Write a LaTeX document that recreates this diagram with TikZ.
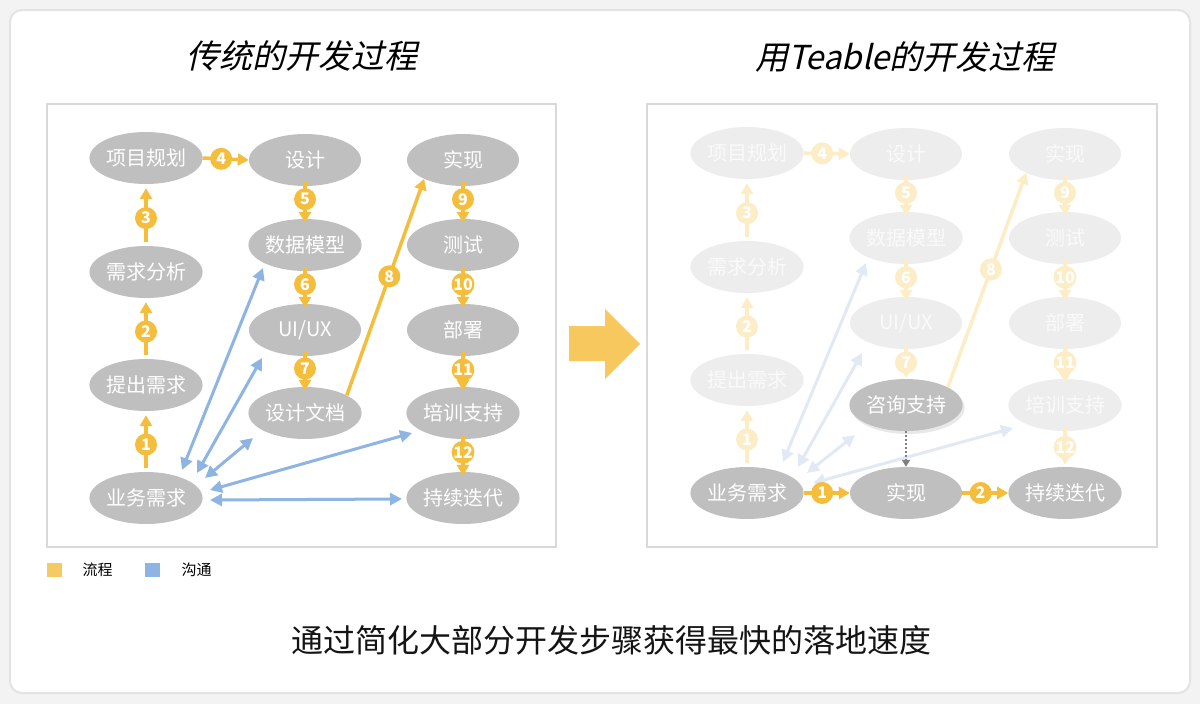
\documentclass[tikz,border=0pt]{standalone}
\usepackage{fontspec}
\setmainfont{Noto Sans CJK SC}
\newfontfamily\cjkslant[FakeSlant=0.22]{Noto Sans CJK SC}
\usetikzlibrary{shapes.geometric,arrows.meta,shadows}
\definecolor{nodegray}{HTML}{BFBFBF}
\definecolor{fadegray}{HTML}{EDEDED}
\definecolor{fadetxt}{HTML}{FAFAFA}
\definecolor{ylw}{HTML}{F4BD3C}
\definecolor{ylwfade}{HTML}{FCEDC6}
\definecolor{blu}{HTML}{8EB4E3}
\definecolor{blufade}{HTML}{E2E9F5}
\definecolor{bigarrow}{HTML}{F7C85E}
\definecolor{panelborder}{HTML}{D9D9D9}
\definecolor{cardborder}{HTML}{E3E3E3}
\definecolor{pagebg}{HTML}{F3F3F3}
\definecolor{dotgray}{HTML}{808080}
\begin{document}
\begin{tikzpicture}[x=1pt,y=-1pt,
  el/.style={ellipse, fill=nodegray, minimum width=112pt, minimum height=52pt, inner sep=0pt, text=white, font=\fontsize{20}{20}\selectfont},
  elfade/.style={el, fill=fadegray, text=fadetxt},
  num/.style={circle, fill=ylw, inner sep=0pt, minimum size=22pt, text=white, font=\bfseries\fontsize{16}{16}\selectfont},
  numfade/.style={num, fill=ylwfade},
  flow/.style={draw=ylw, line width=3.5pt, -{Triangle[length=11pt,width=12pt]}},
  flowfade/.style={flow, draw=ylwfade},
  comm/.style={draw=blu, line width=3pt, {Triangle[length=12pt,width=12pt]}-{Triangle[length=12pt,width=12pt]}},
  commfade/.style={comm, draw=blufade},
  panel/.style={draw=panelborder, line width=2.5pt, fill=white},
  legendtxt/.style={anchor=west, font=\fontsize{15}{15}\selectfont, text=black}
]
\fill[pagebg] (0,0) rectangle (1200,704);
\useasboundingbox (0,0) rectangle (1200,704);
\draw[cardborder, line width=2pt, fill=white, rounded corners=12pt] (10,10) rectangle (1190,693);

% titles
\node[font=\cjkslant\fontsize{33}{33}\selectfont] (t1) at (302,56) {传统的开发过程};
\node[font=\cjkslant\fontsize{33}{33}\selectfont] (t2) at (905,57) {用Teable的开发过程};

% panels
\draw[panel] (47,104) rectangle (556,547);
\draw[panel] (647,104) rectangle (1157,547);

% big arrow
\fill[bigarrow] (569,326) -- (605,326) -- (605,309) -- (640,344) -- (605,379) -- (605,361) -- (569,361) -- cycle;

% ---------- left panel ----------
\node[el] (L1) at (146,158) {项目规划};
\node[el] (L2) at (305,160) {设计};
\node[el] (L3) at (463,160) {实现};
\node[el] (L4) at (146,272) {需求分析};
\node[el] (L5) at (305,245) {数据模型};
\node[el] (L6) at (463,245) {测试};
\node[el] (L7) at (305,330) {UI/UX};
\node[el] (L8) at (463,330) {部署};
\node[el] (L9) at (146,385) {提出需求};
\node[el] (L10) at (305,413) {设计文档};
\node[el] (L11) at (463,413) {培训支持};
\node[el] (L12) at (146,498) {业务需求};
\node[el] (L13) at (463,498) {持续迭代};

\draw[flow, shorten <=4pt, shorten >=4pt] (L12.north) -- node[num,pos=.45]{1} (L9.south);
\draw[flow, shorten <=4pt, shorten >=4pt] (L9.north) -- node[num,pos=.45]{2} (L4.south);
\draw[flow, shorten <=4pt, shorten >=4pt] (L4.north) -- node[num,pos=.45]{3} (L1.south);
\draw[flow] (L1.east) -- node[num,pos=.4]{4} (L2.west);
\draw[flow, shorten <=-4pt, shorten >=-4pt] (L2.south) -- node[num,pos=.4]{5} (L5.north);
\draw[flow, shorten <=-4pt, shorten >=-4pt] (L5.south) -- node[num,pos=.4]{6} (L7.north);
\draw[flow, shorten <=-4pt, shorten >=-4pt] (L7.south) -- node[num,pos=.4]{7} (L10.north);
\draw[flow] (L10.23) -- node[num,pos=.55]{8} (L3.206);
\draw[flow, shorten <=-4pt, shorten >=-4pt] (L3.south) -- node[num,pos=.4]{9} (L6.north);
\draw[flow, shorten <=-4pt, shorten >=-4pt] (L6.south) -- node[num,pos=.4]{10} (L8.north);
\draw[flow, shorten <=-4pt, shorten >=-4pt] (L8.south) -- node[num,pos=.45]{11} (L11.north);
\draw[flow, shorten <=-4pt, shorten >=-4pt] (L11.south) -- node[num,pos=.4]{12} (L13.north);

\draw[comm] ([shift={(36,-28)}]L12.center) -- ([shift={(-42,23)}]L5.center);
\draw[comm] ([shift={(51,-25)}]L12.center) -- ([shift={(-43,28)}]L7.center);
\draw[comm] ([shift={(59,-20)}]L12.center) -- ([shift={(-52,25)}]L10.center);
\draw[comm] ([shift={(64,-8)}]L12.center) -- ([shift={(-51,20)}]L11.center);
\draw[comm] ([shift={(64,2)}]L12.center) -- ([shift={(-61,1)}]L13.center);

% ---------- right panel ----------
\node[elfade] (R1) at (747,153) {项目规划};
\node[elfade] (R2) at (906,154) {设计};
\node[elfade] (R3) at (1065,154) {实现};
\node[elfade] (R4) at (747,267) {需求分析};
\node[elfade] (R5) at (906,238) {数据模型};
\node[elfade] (R6) at (1065,238) {测试};
\node[elfade] (R7) at (906,323) {UI/UX};
\node[elfade] (R8) at (1065,323) {部署};
\node[elfade] (R9) at (747,380) {提出需求};
\node[elfade] (R11) at (1065,405) {培训支持};
\node[el, drop shadow={opacity=0.18, shadow xshift=2pt, shadow yshift=-3pt}] (R10) at (906,405) {咨询支持};
\node[el] (R12) at (747,493) {业务需求};
\node[el] (R13) at (906,493) {实现};
\node[el] (R14) at (1065,493) {持续迭代};

\draw[flowfade, shorten <=4pt, shorten >=4pt] (R12.north) -- node[numfade,pos=.45]{1} (R9.south);
\draw[flowfade, shorten <=4pt, shorten >=4pt] (R9.north) -- node[numfade,pos=.45]{2} (R4.south);
\draw[flowfade, shorten <=4pt, shorten >=4pt] (R4.north) -- node[numfade,pos=.45]{3} (R1.south);
\draw[flowfade] (R1.east) -- node[numfade,pos=.4]{4} (R2.west);
\draw[flowfade, shorten <=-4pt, shorten >=-4pt] (R2.south) -- node[numfade,pos=.4]{5} (R5.north);
\draw[flowfade, shorten <=-4pt, shorten >=-4pt] (R5.south) -- node[numfade,pos=.4]{6} (R7.north);
\draw[flowfade, shorten <=-4pt, shorten >=1pt] (R7.south) -- node[numfade,pos=.45]{7} (R10.north);
\draw[flowfade] (R10.23) -- node[numfade,pos=.55]{8} (R3.206);
\draw[flowfade, shorten <=-4pt, shorten >=-4pt] (R3.south) -- node[numfade,pos=.4]{9} (R6.north);
\draw[flowfade, shorten <=-4pt, shorten >=-4pt] (R6.south) -- node[numfade,pos=.4]{10} (R8.north);
\draw[flowfade, shorten <=-4pt, shorten >=-4pt] (R8.south) -- node[numfade,pos=.45]{11} (R11.north);
\draw[flowfade, shorten <=-4pt, shorten >=2pt] (R11.south) -- node[numfade,pos=.45]{12} (R14.north);

\draw[commfade] ([shift={(36,-31)}]R12.center) -- ([shift={(-40,25)}]R5.center);
\draw[commfade] ([shift={(51,-26)}]R12.center) -- ([shift={(-44,30)}]R7.center);
\draw[commfade] ([shift={(60,-20)}]R12.center) -- ([shift={(-51,30)}]R10.center);
\draw[commfade] ([shift={(66,-10)}]R12.center) -- ([shift={(-52,23)}]R11.center);

\draw[flow] (R12.east) -- node[num,pos=.4]{1} (R13.west);
\draw[flow] (R13.east) -- node[num,pos=.4]{2} (R14.west);
\draw[draw=dotgray, line width=2pt, dash pattern=on 2pt off 2pt, -{Triangle[length=7pt,width=8pt]}] (R10.south) -- (R13.north);

% legend
\fill[ylw!80!white] (47,563) rectangle (62,577);
\node[legendtxt] (lg1) at (79,570) {流程};
\fill[blu] (145,563) rectangle (160,577);
\node[legendtxt] (lg2) at (178,570) {沟通};

% bottom text
\node[font=\fontsize{32}{32}\selectfont, text=black!92] (bt) at (611,640) {通过简化大部分开发步骤获得最快的落地速度};
\end{tikzpicture}
\end{document}
